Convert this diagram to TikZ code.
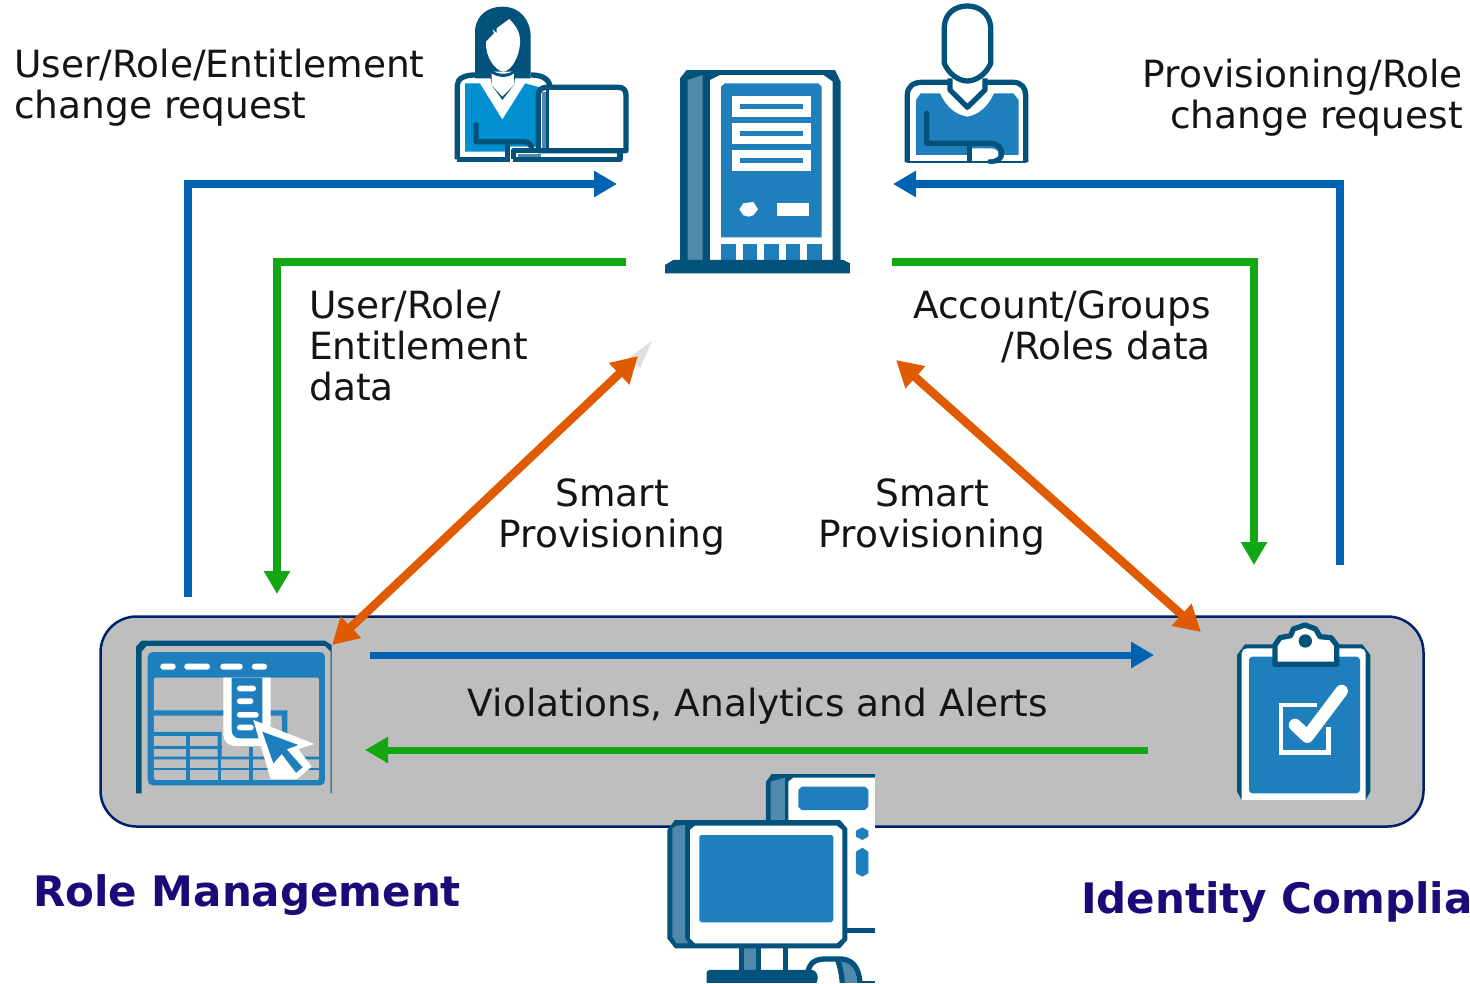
\documentclass[tikz,border=0pt]{standalone}
\usepackage{fontspec}
\setmainfont{DejaVu Sans}
\usetikzlibrary{arrows.meta}
\definecolor{edgeblue}{HTML}{0063B1}
\definecolor{edgegreen}{HTML}{13A813}
\definecolor{edgeorange}{HTML}{E05A00}
\definecolor{boxgray}{HTML}{BEBEBE}
\definecolor{boxline}{HTML}{00206E}
\definecolor{titlecol}{HTML}{1B0B78}
\definecolor{icdark}{HTML}{03527C}
\definecolor{icblue}{HTML}{1F7FBD}
\definecolor{icsky}{HTML}{0090D0}
\definecolor{iclight}{HTML}{5089AB}
\tikzset{
  conn/.style={line width=8pt,-{Triangle[length=23pt,width=25pt]}},
  dconn/.style={line width=8.5pt,{Triangle[length=26pt,width=28pt]}-{Triangle[length=26pt,width=28pt]}},
  lab/.style={inner sep=0pt,font=\fontsize{37.5}{41}\selectfont,text=black!92},
  ttl/.style={inner sep=0pt,font=\fontsize{42}{48}\selectfont\bfseries,text=titlecol},
  zoomed/.style={x=0.3333pt,y=-0.3333pt},
  stk/.style={draw=icdark,line width=5.3pt,line join=round},
}
\begin{document}
\begin{tikzpicture}[x=1pt,y=-1pt]
\useasboundingbox (0,0) rectangle (1470,983);
\clip (0,0) rectangle (1470,983);
\fill[white] (0,0) rectangle (1470,983);
% container
\node[draw=boxline,fill=boxgray,line width=2.5pt,rounded corners=36pt,minimum width=1323pt,minimum height=210pt,inner sep=0pt] (band) at (762,721.5) {};
% coordinates
\coordinate (a1) at (188,597); \coordinate (a1c) at (188,184); \coordinate (a1e) at (617,184);
\coordinate (a2) at (626,262); \coordinate (a2c) at (277,262); \coordinate (a2e) at (277,594);
\coordinate (a3) at (1340,565); \coordinate (a3c) at (1340,184); \coordinate (a3e) at (893,184);
\coordinate (a4) at (892,262); \coordinate (a4c) at (1254,262); \coordinate (a4e) at (1254,565);
\coordinate (o1a) at (332,645); \coordinate (o1b) at (638,356);
\coordinate (o2a) at (1201,632); \coordinate (o2b) at (896,360);
\coordinate (b1) at (370,655); \coordinate (b1e) at (1154,655);
\coordinate (b2) at (1148,750); \coordinate (b2e) at (365,750);
\coordinate (g1a) at (627,359); \coordinate (g1b) at (652,341); \coordinate (g1c) at (640,368);
\fill[black!12] (g1a)--(g1b)--(g1c)--cycle;
\draw[conn,edgeblue] (a1)--(a1c)--(a1e);
\draw[conn,edgegreen] (a2)--(a2c)--(a2e);
\draw[conn,edgeblue] (a3)--(a3c)--(a3e);
\draw[conn,edgegreen] (a4)--(a4c)--(a4e);
\draw[dconn,edgeorange] (o1a)--(o1b);
\draw[dconn,edgeorange] (o2a)--(o2b);
\draw[conn,edgeblue,line width=7pt] (b1)--(b1e);
\draw[conn,edgegreen,line width=7pt] (b2)--(b2e);
% labels
\node[lab,align=left,anchor=north west] (l1) at (14,49) {User/Role/Entitlement\\change request};
\node[lab,align=right,anchor=north east] (l2) at (1463,59) {Provisioning/Role\\change request};
\node[lab,align=left,anchor=north west] (l3) at (309,290) {User/Role/\\Entitlement\\data};
\node[lab,align=right,anchor=north east] (l4) at (1211,290) {Account/Groups\\/Roles data};
\node[lab,align=center,anchor=north] (l5) at (612,478) {Smart\\Provisioning};
\node[lab,align=center,anchor=north] (l6) at (932,478) {Smart\\Provisioning};
\node[lab,anchor=north] (l7) at (758,688) {Violations, Analytics and Alerts};
\node[ttl,anchor=west] (t1) at (33,895) {Role Management};
\node[ttl,anchor=west] (t2) at (1081,902) {Identity Compliance};
% woman
\begin{scope}[shift={(440,0)},zoomed]
\fill[icsky] (75,250)--(120,250)--(187,350)--(255,250)--(300,262)--(300,440)--(210,440)--(210,455)--(75,455)--cycle;
\fill[white] (120,250)--(187,358)--(255,250)--(222,250)--(187,300)--(155,250)--cycle;
\draw[stk] (52,478)--(52,255) .. controls (52,235) and (75,225) .. (105,225);
\draw[stk] (272,225) .. controls (305,225) and (325,235) .. (330,258);
\draw[stk] (52,478)--(210,478);
\fill[icdark] (105,235)--(105,90) .. controls (110,40) and (150,20) .. (187,20) .. controls (240,20) and (272,60) .. (272,110)--(272,235)--(225,235)--(222,255)--(187,300)--(155,255)--(152,235)--cycle;
\fill[white] (155,215)--(222,215)--(222,255)--(187,290)--(155,255)--cycle;
\fill[icdark] (152,210) .. controls (175,225) and (205,225) .. (225,210)--(225,218) .. controls (205,235) and (175,235) .. (152,218)--cycle;
\fill[white] (138,125)--(162,100)--(158,88)--(170,100)--(170,85)--(208,57) .. controls (230,80) and (242,100) .. (240,130) .. controls (238,170) and (215,212) .. (190,215) .. controls (165,212) and (135,170) .. (138,125)--cycle;
\draw[stk] (108,368)--(108,425)--(250,425) .. controls (265,425) and (275,435) .. (275,445);
\draw[stk] (203,430)--(203,478);
\fill[white] (300,265) rectangle (555,450);
\fill[iclight] (305,275) rectangle (318,445);
\draw[stk] (320,262)--(535,262) .. controls (550,262) and (558,270) .. (558,285)--(558,452)--(295,452)--(295,285) .. controls (295,270) and (305,262) .. (320,262);
\draw[stk,line width=2.5pt] (322,265)--(322,452);
\fill[iclight] (235,462) rectangle (303,472);
\draw[stk] (220,478)--(540,478)--(540,456);
\draw[stk] (220,478)--(220,452)--(295,452);
\end{scope}
% server
\begin{scope}[shift={(650,60)},zoomed]
\fill[icdark] (90,605)--(90,55)--(110,30)--(555,30)--(572,65)--(572,605)--cycle;
\fill[iclight] (113,60)--(158,45)--(158,600)--(113,600)--cycle;
\fill[white] (180,600)--(180,60)--(210,45)--(520,45)--(548,65)--(548,600)--cycle;
\fill[icblue] (213,80)--(225,70)--(505,70)--(515,80)--(515,532)--(213,532)--cycle;
\foreach \yy in {108,189,270}{
\fill[white] (246,\yy) rectangle (482,\yy+62);
\fill[icblue] (269,\yy+24) rectangle (459,\yy+40);}
\fill[white] (268,448)--(280,430)--(310,426)--(324,448)--(310,466)--(296,470)--(280,466)--cycle;
\fill[white] (381,429) rectangle (477,468);
\foreach \xa/\xb in {213/258,280/320,342/387,409/449,471/515}{\fill[icblue] (\xa,553) rectangle (\xb,602);}
\fill[icdark] (45,640)--(45,615)--(70,600)--(580,600)--(600,610)--(600,640)--cycle;
\end{scope}
% man
\begin{scope}[shift={(890,0)},zoomed]
\fill[icblue] (78,465)--(78,300)--(92,280)--(150,280) .. controls (170,325) and (200,345) .. (232,350) .. controls (265,345) and (295,320) .. (312,280)--(370,280)--(386,300)--(386,465)--cycle;
\draw[stk] (52,487)--(52,285) .. controls (52,260) and (70,247) .. (95,247)--(175,247);
\draw[stk] (290,247)--(370,247) .. controls (395,247) and (407,265) .. (407,285)--(407,487);
\draw[stk,line width=2pt] (52,487)--(407,487);
\draw[stk,fill=white] (232,18) .. controls (195,18) and (165,40) .. (163,80)--(163,190) .. controls (175,220) and (205,243) .. (232,243) .. controls (260,243) and (290,220) .. (302,190)--(302,80) .. controls (298,40) and (268,18) .. (232,18)--cycle;
\draw[stk] (180,235)--(180,270)--(232,322)--(285,270)--(285,235);
\fill[white] (190,250) .. controls (205,255) and (260,255) .. (275,250)--(275,268)--(232,305)--(190,268)--cycle;
\draw[stk,line cap=round] (110,340)--(110,430)--(300,430) .. controls (325,430) and (335,445) .. (335,460) .. controls (335,475) and (325,484) .. (300,484);
\draw[stk] (238,430)--(238,487);
\fill[white] (246,445)--(300,445) .. controls (315,445) and (325,452) .. (325,460) .. controls (325,470) and (315,478) .. (300,478)--(246,478)--cycle;
\end{scope}
% table icon
\begin{scope}[shift={(125,630)},zoomed]
\fill[icdark] (33,490)--(33,50)--(50,32)--(600,32)--(620,45)--(620,490)--cycle;
\fill[boxgray] (50,492)--(50,65)--(65,48)--(600,48)--(617,65)--(617,492)--cycle;
\fill[icblue,rounded corners=5pt] (68,66) rectangle (600,466);
\fill[boxgray,rounded corners=1.5pt] (87,143) rectangle (582,450);
\fill[icblue] (87,241)--(487,241)--(487,330)--(471,330)--(471,257)--(87,257)--cycle;
\fill[icblue] (87,306)--(290,306)--(290,380)--(582,380)--(582,388)--(87,388)--(87,380)--(278,380)--(278,318)--(87,318)--cycle;
\fill[icblue] (87,348) rectangle (290,356);
\fill[icblue] (87,415) rectangle (582,421);
\fill[icblue] (184,315) rectangle (195,450);
\fill[icblue] (278,380) rectangle (288,450);
\fill[icblue] (372,350) rectangle (383,450);
\foreach \xa/\xb in {106/152,178/255,286/353,381/426}{\fill[white,rounded corners=2.8pt] (\xa,101) rectangle (\xb,119);}
\fill[white] (295,143)--(295,310) .. controls (295,335) and (310,348) .. (335,348)--(437,348)--(437,143)--cycle;
\fill[icblue] (320,143)--(320,300) .. controls (320,315) and (330,325) .. (345,325)--(412,325)--(412,143)--cycle;
\foreach \xa/\xb/\yy in {336/393/167,336/385/205,336/401/246,336/386/284}{\fill[white,rounded corners=2.7pt] (\xa,\yy) rectangle (\xb,\yy+17);}
\fill[white] (385,270)--(568,342)--(520,357)--(560,410)--(515,448)--(437,448)--cycle;
\fill[icblue] (412,305)--(520,345)--(485,358)--(533,412)--(513,428)--(470,372)--(445,400)--cycle;
\end{scope}
% clipboard
\begin{scope}[shift={(1225,615)},zoomed]
\fill[icdark] (50,555)--(36,530)--(36,120)--(60,88)--(412,88)--(436,120)--(436,530)--(422,555)--cycle;
\fill[white,rounded corners=5pt] (50,100)--(50,575)--(422,575)--(422,100)--cycle;
\fill[boxgray] (30,555) rectangle (440,585);
\fill[icblue,rounded corners=3.5pt] (72,125) rectangle (405,535);
\draw[white,line width=4.5pt] (275,270)--(168,270)--(168,412)--(310,412)--(310,335);
\draw[white,line width=12.5pt,line cap=round,line join=round] (210,330)--(247,365)--(350,228);
\draw[stk,fill=white] (150,148)--(150,90)--(165,68)--(197,62)--(205,42)--(240,30)--(272,42)--(285,65)--(318,68)--(335,90)--(335,148)--cycle;
\fill[icdark] (241,78) circle[radius=20];
\end{scope}
% computer
\begin{scope}[shift={(655,765)},zoomed]
\begin{scope}
\clip (0,0) rectangle (660,654);
\fill[icdark] (333,170)--(333,50)--(350,27)--(680,27)--(680,170)--cycle;
\fill[iclight] (347,165)--(347,50)--(390,38)--(390,165)--cycle;
\fill[white] (400,200)--(400,50)--(415,38)--(680,38)--(680,490)--(400,490)--cycle;
\fill[icblue] (430,75)--(440,65)--(630,65)--(640,75)--(640,125)--(630,135)--(440,135)--(430,125)--cycle;
\fill[icblue] (603,197)--(622,187)--(640,197)--(640,215)--(622,225)--(603,215)--cycle;
\fill[icblue] (603,260)--(622,248)--(640,260)--(640,325)--(622,335)--(603,325)--cycle;
\fill[icdark] (575,488) rectangle (680,503);
\fill[icdark] (252,545) rectangle (400,620);
\fill[iclight] (268,550) rectangle (302,620);
\fill[white] (318,550) rectangle (385,620);
\fill[icdark] (37,195)--(60,165)--(555,165)--(577,190)--(577,525)--(555,550)--(60,550)--(37,520)--cycle;
\fill[iclight] (52,190)--(65,182)--(90,180)--(90,520)--(100,535)--(65,535)--(52,515)--cycle;
\fill[white] (105,195)--(120,182)--(545,182)--(562,195)--(562,520)--(545,535)--(120,535)--(105,520)--cycle;
\fill[icblue] (133,215)--(138,210)--(530,210)--(535,215)--(535,465)--(528,472)--(138,472)--(133,465)--cycle;
\fill[iclight] (555,590)--(575,590) .. controls (595,600) and (605,625) .. (607,654)--(568,654) .. controls (566,625) and (560,605) .. (555,590)--cycle;
\draw[stk] (458,625) .. controls (462,595) and (480,582) .. (510,582)--(560,582) .. controls (595,585) and (612,610) .. (615,654);
\draw[stk] (548,585) .. controls (556,605) and (560,630) .. (562,654);
\draw[stk,line width=2pt] (615,651)--(680,651);
\fill[icdark,rounded corners=3pt] (155,670)--(155,615)--(480,615)--(490,635)--(480,670)--cycle;
\end{scope}
\end{scope}
\end{tikzpicture}
\end{document}
